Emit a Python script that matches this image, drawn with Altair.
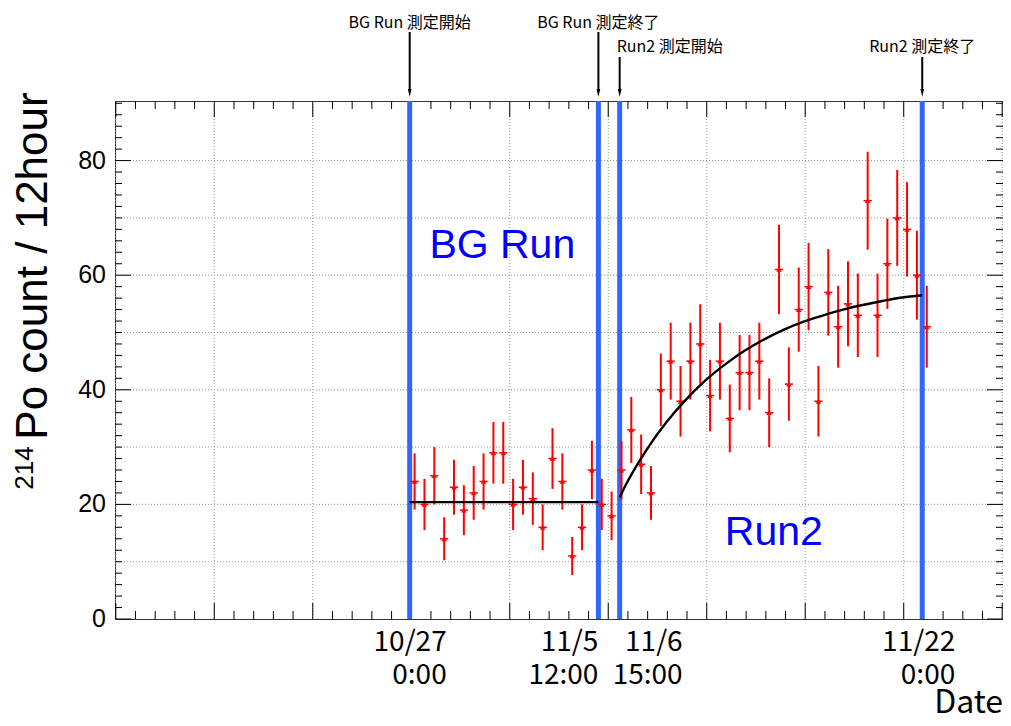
import altair as alt
import pandas as pd

# ---------------- data ----------------
# 12-hour bins, x measured in days since 10/27 0:00
BIN_DAYS = 0.5
counts = [24, 20, 25, 14, 23, 19, 22, 24, 29, 29, 20, 23, 21, 16, 28, 24, 11, 16, 26,
          20, 18,
          26, 33, 27, 22, 40, 45, 38, 45, 48, 39, 45, 35, 43, 43, 45, 36,
          61, 41, 54, 58, 38, 57, 51, 55, 53, 73, 53, 62, 70, 68, 60, 51]

fit_bg_days = [0.0, 9.58]
fit_bg_vals = [20.4, 20.4]
fit_run2_days = [10.66, 11, 12, 13, 14, 15, 16, 17, 18, 19, 20, 21, 22, 23, 24, 25, 26.02]
fit_run2_vals = [21.2, 23.6, 29.4, 34.2, 38.2, 41.6, 44.4, 46.8, 48.8, 50.5, 51.9,
                 53.0, 54.0, 54.8, 55.5, 56.1, 56.5]

event_days = [0.0, 9.58, 10.66, 26.02]
event_texts = ["BG Run 測定開始", "BG Run 測定終了", "Run2 測定開始", "Run2 測定終了"]
date_line1 = ["10/27", "11/5", "11/6", "11/22"]
date_line2 = ["0:00", "12:00", "15:00", "0:00"]
y_tick_labels = [0, 20, 40, 60, 80]
x_title = "Date"
y_title_sup = "214"
y_title_main = "Po count / 12hour"
region_texts = ["BG Run", "Run2"]
region_days = [1.0, 16.0]
region_vals = [63.0, 13.0]

# ---------------- layout / style ----------------
W, H = 888, 518
X_MIN, X_MAX = -14.96, 30.12
Y_MAX = 90.4
JP = "Noto Sans CJK JP"
LAT = "Liberation Sans"
BLUE = "#3366ff"
RED = "#ff0000"

xs = alt.Scale(domain=[X_MIN, X_MAX], nice=False, zero=False)
ys = alt.Scale(domain=[0, Y_MAX], nice=False, zero=False)


def X(f):
    return alt.X(f, type="quantitative", scale=xs, axis=None)


def Y(f):
    return alt.Y(f, type="quantitative", scale=ys, axis=None)


layers = []

# grid lines
hgrid = [10, 20, 30, 40, 50, 60, 70, 80]
layers.append(
    alt.Chart(pd.DataFrame({"v": hgrid}))
    .mark_rule(stroke="#9a9a9a", strokeDash=[1, 2], strokeWidth=1)
    .encode(y=Y("v"), x=alt.value(0), x2=alt.value(W))
)
vgrid = [5.08 + 5 * k for k in range(-4, 6)]
layers.append(
    alt.Chart(pd.DataFrame({"d": vgrid}))
    .mark_rule(stroke="#9a9a9a", strokeDash=[1, 2], strokeWidth=1)
    .encode(x=X("d"), y=alt.value(0), y2=alt.value(H))
)

# tick marks (inside the frame on all four sides)
ytk = list(range(0, 91, 2))
ymaj = [v for v in ytk if v % 20 == 0]
ymin = [v for v in ytk if v % 20 != 0]
for vals, ln in [(ymaj, 16), (ymin, 7)]:
    df = pd.DataFrame({"v": vals})
    layers.append(alt.Chart(df).mark_rule(color="black", strokeWidth=1)
                  .encode(y=Y("v"), x=alt.value(0), x2=alt.value(ln)))
    layers.append(alt.Chart(df).mark_rule(color="black", strokeWidth=1)
                  .encode(y=Y("v"), x=alt.value(W), x2=alt.value(W - ln)))
xtk = [0.08 + k for k in range(-15, 31)]
xmaj = [d for i, d in zip(range(-15, 31), xtk) if i % 5 == 0]
xmin = [d for i, d in zip(range(-15, 31), xtk) if i % 5 != 0]
for vals, ln in [(xmaj, 16), (xmin, 8)]:
    df = pd.DataFrame({"d": vals})
    layers.append(alt.Chart(df).mark_rule(color="black", strokeWidth=1)
                  .encode(x=X("d"), y=alt.value(H), y2=alt.value(H - ln)))
    layers.append(alt.Chart(df).mark_rule(color="black", strokeWidth=1)
                  .encode(x=X("d"), y=alt.value(0), y2=alt.value(ln)))

# y tick labels
layers.append(alt.Chart(pd.DataFrame({"v": y_tick_labels}))
              .mark_text(font=LAT, fontSize=25, align="right", baseline="middle",
                         color="black")
              .encode(y=Y("v"), x=alt.value(-9), text="v:Q"))

# blue event lines
layers.append(
    alt.Chart(pd.DataFrame({"d": event_days}))
    .mark_rule(color=BLUE, strokeWidth=5)
    .encode(x=X("d"), y=alt.value(0), y2=alt.value(H))
)

# data points with sqrt(N) error bars
centers = [BIN_DAYS * i + BIN_DAYS / 2 for i in range(len(counts))]
err = [c ** 0.5 for c in counts]
bins = pd.DataFrame({
    "day": centers, "count": counts,
    "lo": [c - e for c, e in zip(counts, err)],
    "hi": [c + e for c, e in zip(counts, err)],
    "xl": [d - 0.21 for d in centers],
    "xr": [d + 0.21 for d in centers],
})
layers.append(alt.Chart(bins).mark_rule(color=RED, strokeWidth=2)
              .encode(x=X("day"), y=Y("lo"), y2=alt.Y2("hi")))
layers.append(alt.Chart(bins).mark_rule(color=RED, strokeWidth=1.5)
              .encode(x=X("xl"), x2=alt.X2("xr"), y=Y("count")))
layers.append(alt.Chart(bins).mark_point(shape="triangle-up", filled=True, size=30,
                                         color=RED, opacity=1, strokeWidth=0)
              .encode(x=X("day"), y=Y("count")))

# fit curves
layers.append(alt.Chart(pd.DataFrame({"d": fit_bg_days, "v": fit_bg_vals}))
              .mark_line(color="black", strokeWidth=2.4)
              .encode(x=X("d"), y=Y("v")))
layers.append(alt.Chart(pd.DataFrame({"d": fit_run2_days, "v": fit_run2_vals}))
              .mark_line(color="black", strokeWidth=2.4, interpolate="monotone")
              .encode(x=X("d"), y=Y("v")))

# region labels
layers.append(alt.Chart(pd.DataFrame({"t": region_texts, "d": region_days, "v": region_vals}))
              .mark_text(font=LAT, fontSize=41, color="#0000ff", align="left",
                         baseline="alphabetic")
              .encode(x=X("d"), y=Y("v"), text="t:N"))

# top annotations with arrows
ann_style = [  # (baseline y, arrow top y, align, dx)
    (-73, -69, "center", 0),
    (-73, -69, "center", 0),
    (-49, -44, "left", -3),
    (-49, -44, "center", 0),
]
ARROW = "M0,1L-0.45,-1L0.45,-1Z"
for d, txt, (ty, ay, al, dx) in zip(event_days, event_texts, ann_style):
    df = pd.DataFrame({"d": [d], "t": [txt]})
    layers.append(alt.Chart(df).mark_text(font=JP, fontSize=16, align=al, dx=dx,
                                          baseline="alphabetic", color="black")
                  .encode(x=X("d"), y=alt.value(ty), text="t:N"))
    layers.append(alt.Chart(df).mark_rule(color="black", strokeWidth=2)
                  .encode(x=X("d"), y=alt.value(ay), y2=alt.value(-10)))
    layers.append(alt.Chart(df).mark_point(shape=ARROW, filled=True, size=64,
                                           color="black", opacity=1, strokeWidth=0)
                  .encode(x=X("d"), y=alt.value(-8)))

# bottom date labels (two lines, right aligned)
label_dx = [37, 0, 63, 33]
for d, l1, l2, dx in zip(event_days, date_line1, date_line2, label_dx):
    df = pd.DataFrame({"d": [d], "a": [l1], "b": [l2]})
    layers.append(alt.Chart(df).mark_text(font=JP, fontSize=28, align="right", dx=dx,
                                          baseline="alphabetic", color="black")
                  .encode(x=X("d"), y=alt.value(550), text="a:N"))
    layers.append(alt.Chart(df).mark_text(font=JP, fontSize=28, align="right", dx=dx,
                                          baseline="alphabetic", color="black")
                  .encode(x=X("d"), y=alt.value(583), text="b:N"))

# axis titles
layers.append(alt.Chart(pd.DataFrame({"t": [x_title]}))
              .mark_text(font=JP, fontSize=32, align="right", baseline="alphabetic",
                         color="black")
              .encode(x=alt.value(888), y=alt.value(612), text="t:N"))
layers.append(alt.Chart(pd.DataFrame({"t": [y_title_main]}))
              .mark_text(font=LAT, fontSize=44, angle=270, align="center",
                         baseline="alphabetic", color="black")
              .encode(x=alt.value(-68), y=alt.value(165), text="t:N"))
layers.append(alt.Chart(pd.DataFrame({"t": [y_title_sup]}))
              .mark_text(font=LAT, fontSize=26, angle=270, align="center",
                         baseline="alphabetic", color="black")
              .encode(x=alt.value(-82), y=alt.value(367), text="t:N"))

chart = (
    alt.layer(*layers)
    .properties(width=W, height=H,
                padding={"left": 107, "top": 93, "right": 0, "bottom": 99},
                autosize=alt.AutoSizeParams(type="none"))
    .configure_view(stroke="#333333", strokeWidth=1)
)
chart.save("out.html", embed_options={"renderer": "svg", "actions": False})
